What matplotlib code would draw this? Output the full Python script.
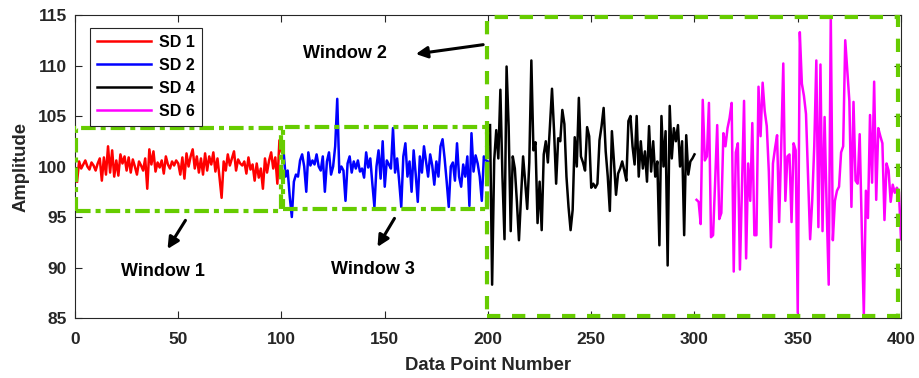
import numpy as np
import matplotlib
matplotlib.use('Agg')
import matplotlib.pyplot as plt
from matplotlib.patches import Rectangle

# dados das quatro janelas
sd1 = [98.5, 100.5, 99.8, 100.2, 100.6, 100.0, 99.7, 100.4, 100.1, 99.6,
       100.3, 100.8, 98.6, 100.9, 99.2, 102.0, 99.4, 101.6, 99.0, 100.6,
       99.1, 101.2, 100.3, 101.0, 99.6, 100.9, 99.4, 100.7, 100.0, 99.2,
       100.5, 100.1, 99.6, 100.8, 97.8, 101.7, 100.2, 101.5, 99.5, 100.4,
       99.9, 100.6, 99.3, 101.0, 100.2, 99.8, 100.5, 100.1, 100.6, 100.3,
       99.2, 100.9, 98.8, 101.3, 100.0, 101.0, 101.7, 99.8, 101.0, 99.4,
       100.8, 99.2, 101.3, 99.6, 101.0, 100.2, 101.4, 99.5, 100.8, 98.9,
       96.9, 100.5, 99.6, 101.2, 100.1, 100.8, 101.5, 99.6, 100.7, 100.3,
       100.1, 100.5, 99.3, 100.9, 99.7, 100.2, 98.6, 100.3, 98.9, 99.8,
       97.8, 100.8, 99.4, 100.6, 101.4, 99.8, 100.9, 98.3, 102.6, 101.5]

sd2 = [101.5, 99.0, 99.6, 97.0, 95.0, 98.5, 99.2, 99.0, 100.6, 101.2,
       100.0, 97.5, 101.4, 100.1, 100.6, 100.2, 101.2, 100.0, 99.6, 101.0,
       97.5, 100.5, 101.4, 99.2, 100.0, 102.0, 106.7, 99.4, 100.0, 99.6,
       96.6, 100.3, 101.0, 99.4, 100.5, 99.8, 100.6, 99.5, 99.8, 98.9,
       101.4, 99.9, 100.8, 98.3, 96.0, 100.0, 101.6, 98.8, 102.5, 98.0,
       100.6, 100.2, 99.8, 103.8, 99.4, 100.8, 98.5, 96.0, 101.0, 102.3,
       99.0, 100.5, 97.5, 101.6, 99.2, 96.5, 101.0, 99.4, 102.0, 100.5,
       99.0, 101.2, 100.1, 98.2, 100.5, 99.0, 102.0, 102.7, 100.8, 98.5,
       96.0, 100.0, 100.4, 98.6, 102.3, 99.0, 98.0, 100.2, 99.0, 101.0,
       96.1, 103.3, 99.5, 101.1, 100.3, 99.0, 96.6, 101.0, 100.6, 100.5]

sd4 = [104.1, 88.3, 100.6, 103.6, 100.8, 107.6, 99.0, 92.8, 109.9, 104.0,
       93.6, 101.0, 99.8, 96.5, 92.7, 97.0, 101.0, 98.5, 95.8, 100.4,
       110.5, 101.6, 102.4, 94.4, 98.5, 93.7, 101.2, 102.5, 100.4, 104.0,
       107.7, 103.5, 98.3, 102.8, 102.5, 105.6, 104.2, 99.0, 96.0, 93.7,
       95.7, 102.9, 100.0, 106.8, 101.0, 100.4, 99.6, 103.9, 103.0, 97.9,
       98.3, 97.9, 98.3, 102.6, 104.0, 105.8, 101.5, 99.0, 95.6, 103.5,
       100.5, 97.2, 99.3, 99.8, 100.5, 99.6, 98.6, 104.5, 105.0, 102.0,
       100.2, 105.0, 99.0, 102.5, 99.8, 101.5, 98.5, 104.0, 99.5, 102.5,
       99.0, 100.5, 92.2, 105.0, 100.0, 103.5, 90.2, 106.0, 100.8, 103.8,
       102.5, 104.1, 100.0, 102.5, 93.2, 103.1, 99.2, 100.5, 100.8, 101.2]

sd6 = [96.7, 96.5, 94.3, 106.6, 100.6, 101.0, 106.3, 93.0, 93.2, 98.5,
       104.1, 94.8, 95.4, 103.3, 102.0, 103.8, 104.8, 106.3, 89.6, 101.4,
       102.3, 89.8, 98.0, 106.5, 90.9, 100.3, 96.6, 104.3, 93.2, 93.2,
       107.9, 103.0, 108.3, 105.5, 104.0, 99.5, 92.0, 100.3, 101.8, 103.1,
       94.5, 102.0, 110.2, 96.6, 101.0, 101.2, 94.5, 102.3, 101.6, 85.5,
       113.3, 108.2, 107.0, 105.2, 99.0, 92.8, 96.6, 102.0, 110.5, 94.0,
       110.1, 93.6, 104.9, 96.0, 88.3, 115.0, 92.7, 96.6, 97.6, 98.0,
       101.4, 102.0, 112.5, 109.5, 106.5, 96.0, 106.4, 98.6, 98.3, 103.2,
       94.0, 85.3, 97.6, 94.9, 105.1, 98.4, 108.4, 96.7, 103.8, 103.0,
       102.3, 94.7, 100.3, 99.6, 96.5, 98.2, 97.4, 97.9, 97.5, 92.8]

series = [('SD 1', sd1, 'red'), ('SD 2', sd2, 'blue'),
          ('SD 4', sd4, 'black'), ('SD 6', sd6, 'magenta')]

verde = '#66CC00'
cinza = '#262626'

plt.rcParams['font.family'] = 'Liberation Sans'
plt.rcParams['font.weight'] = 'bold'

fig = plt.figure(figsize=(9.19, 3.78), dpi=100)
ax = fig.add_axes([0.0816, 0.1587, 0.8988, 0.8016])

for i, (nome, vals, cor) in enumerate(series):
    x = np.arange(1, len(vals) + 1) + i * 100
    ax.plot(x, vals, color=cor, lw=1.8, label=nome)

# janelas
traco_ponto = (0, (3.5, 1.2, 1.2, 1.2))
ax.add_patch(Rectangle((0.3, 95.6), 99.5, 8.2, fill=False, ec=verde, lw=3,
                       ls=traco_ponto, zorder=3))
ax.add_patch(Rectangle((100.5, 95.8), 99.0, 8.15, fill=False, ec=verde, lw=3,
                       ls=traco_ponto, zorder=3))
ax.add_patch(Rectangle((199.5, 85.2), 199.0, 29.6, fill=False, ec=verde, lw=3,
                       ls=(0, (3.2, 2.8)), zorder=3, clip_on=False))

seta = dict(arrowstyle='-|>', color='black', lw=2.2, mutation_scale=17)
ax.annotate('', xy=(163.7, 111.1), xytext=(199, 112.1), arrowprops=seta)
ax.annotate('', xy=(44.1, 91.6), xytext=(54.2, 94.9), arrowprops=seta)
ax.annotate('', xy=(145.8, 91.8), xytext=(155.4, 95.1), arrowprops=seta)
ax.text(130.7, 111.2, 'Window 2', ha='center', va='center', fontsize=13, fontweight='bold')
ax.text(42.6, 89.65, 'Window 1', ha='center', va='center', fontsize=13, fontweight='bold')
ax.text(144.3, 89.85, 'Window 3', ha='center', va='center', fontsize=13, fontweight='bold')

ax.set_xlim(0, 400)
ax.set_ylim(85, 115)
ax.set_xticks(np.arange(0, 401, 50))
ax.set_yticks(np.arange(85, 116, 5))
ax.tick_params(direction='in', top=True, right=True, labelsize=12.5,
               colors=cinza, length=5, width=0.8)
ax.tick_params(axis='x', pad=10)
ax.tick_params(axis='y', pad=6)
for s in ax.spines.values():
    s.set_color(cinza)
    s.set_linewidth(0.8)
ax.set_xlabel('Data Point Number', fontsize=13.3, fontweight='bold', color=cinza, labelpad=7)
ax.set_ylabel('Amplitude', fontsize=13.3, fontweight='bold', color=cinza, labelpad=6)

leg = ax.legend(loc='upper left', bbox_to_anchor=(0.008, 0.985), fontsize=11.5,
                handlelength=3.4, fancybox=False, framealpha=1, borderpad=0.45,
                labelspacing=0.5, handletextpad=0.5)
leg.get_frame().set_edgecolor(cinza)
leg.get_frame().set_linewidth(0.8)

fig.savefig('out.png', dpi=100)
